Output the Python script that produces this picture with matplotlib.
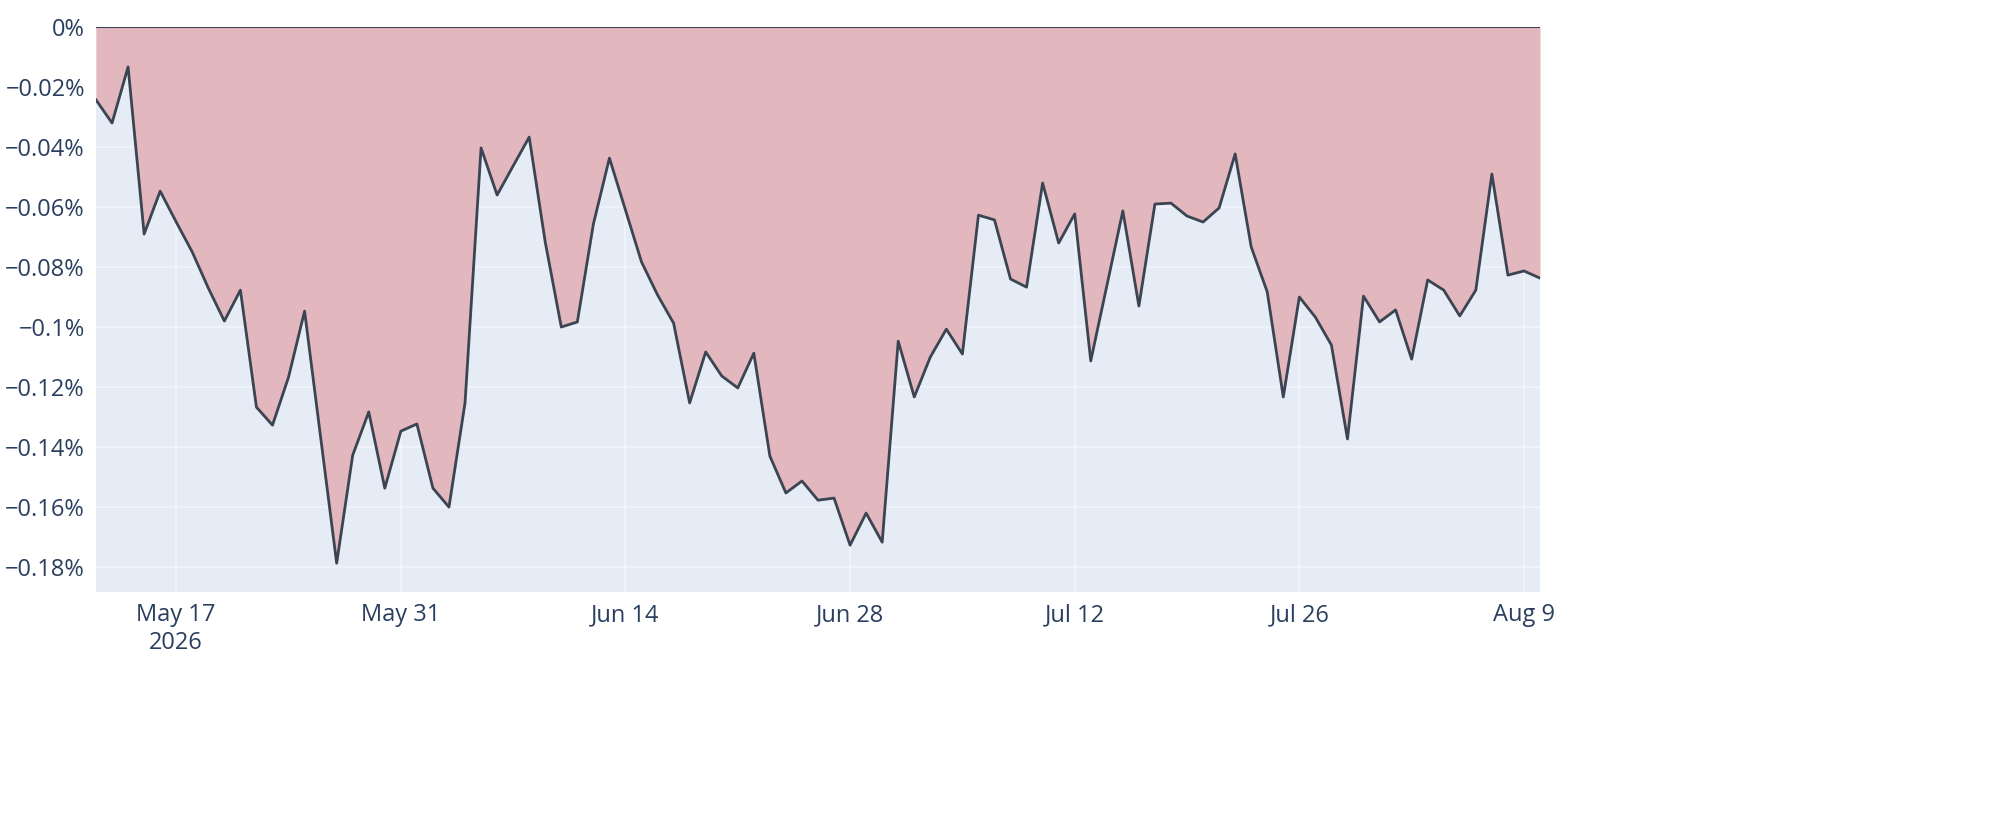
import numpy as np
import pandas as pd
import matplotlib.pyplot as plt
from matplotlib.ticker import FuncFormatter

plt.rcParams['font.family'] = ['Open Sans', 'DejaVu Sans']

dates = pd.date_range('2026-05-12', '2026-08-10', freq='D')
drawdown = [
    -0.0243, -0.032, -0.0133, -0.069, -0.0547, -0.065, -0.075, -0.087, -0.098, -0.0877,
    -0.1267, -0.1327, -0.1167, -0.0947, -0.1367, -0.1787, -0.1427, -0.1283, -0.1537, -0.1347,
    -0.1323, -0.1537, -0.16, -0.1253, -0.0403, -0.056, -0.0463, -0.0367, -0.0717, -0.1,
    -0.0983, -0.0657, -0.0437, -0.061, -0.0783, -0.0893, -0.0987, -0.1253, -0.1083, -0.1163,
    -0.1203, -0.1087, -0.143, -0.1553, -0.1513, -0.1577, -0.157, -0.1727, -0.162, -0.1717,
    -0.1047, -0.1233, -0.11, -0.1007, -0.109, -0.0627, -0.0643, -0.084, -0.0867, -0.052,
    -0.072, -0.0623, -0.1113, -0.0863, -0.0613, -0.093, -0.059, -0.0587, -0.063, -0.065,
    -0.0603, -0.0423, -0.0733, -0.0883, -0.1233, -0.09, -0.0967, -0.106, -0.1373, -0.0897,
    -0.0983, -0.0943, -0.1107, -0.0843, -0.0877, -0.0963, -0.0877, -0.049, -0.0827, -0.0813,
    -0.0837,
]
tick_dates = ['2026-05-17', '2026-05-31', '2026-06-14', '2026-06-28', '2026-07-12', '2026-07-26', '2026-08-09']
tick_labels = ['May 17\n2026', 'May 31', 'Jun 14', 'Jun 28', 'Jul 12', 'Jul 26', 'Aug 9']

text_color = '#2a3f5f'
fig = plt.figure(figsize=(20, 8.4), dpi=100)
ax = fig.add_axes([96 / 2000, 1 - 592 / 840, (1540 - 96) / 2000, (592 - 27) / 840])
ax.set_facecolor('#e5ecf6')

ax.fill_between(dates, drawdown, 0, color='#e2b7bd', linewidth=0, zorder=2)
ax.plot(dates, drawdown, color='#3b4452', linewidth=2, zorder=3)
ax.axhline(0, color='#3b4452', linewidth=1.5, zorder=4)

ax.set_xlim(dates[0], dates[-1])
ax.set_ylim(-0.1883, 0)
ax.set_yticks(np.arange(0, -0.19, -0.02))
ax.yaxis.set_major_formatter(FuncFormatter(
    lambda v, p: '0%' if abs(v) < 1e-9 else f'{v:g}%'.replace('-', '\u2212')))
ax.set_xticks(pd.to_datetime(tick_dates))
ax.set_xticklabels(tick_labels)

ax.grid(True, color='white', linewidth=1.3)
for s in ax.spines.values():
    s.set_visible(False)
ax.tick_params(length=0, labelsize=17, colors=text_color, pad=8)
for gl in ax.get_xgridlines() + ax.get_ygridlines():
    gl.set_zorder(2.5)
    gl.set_alpha(0.45)

fig.savefig('out.png', dpi=100)
